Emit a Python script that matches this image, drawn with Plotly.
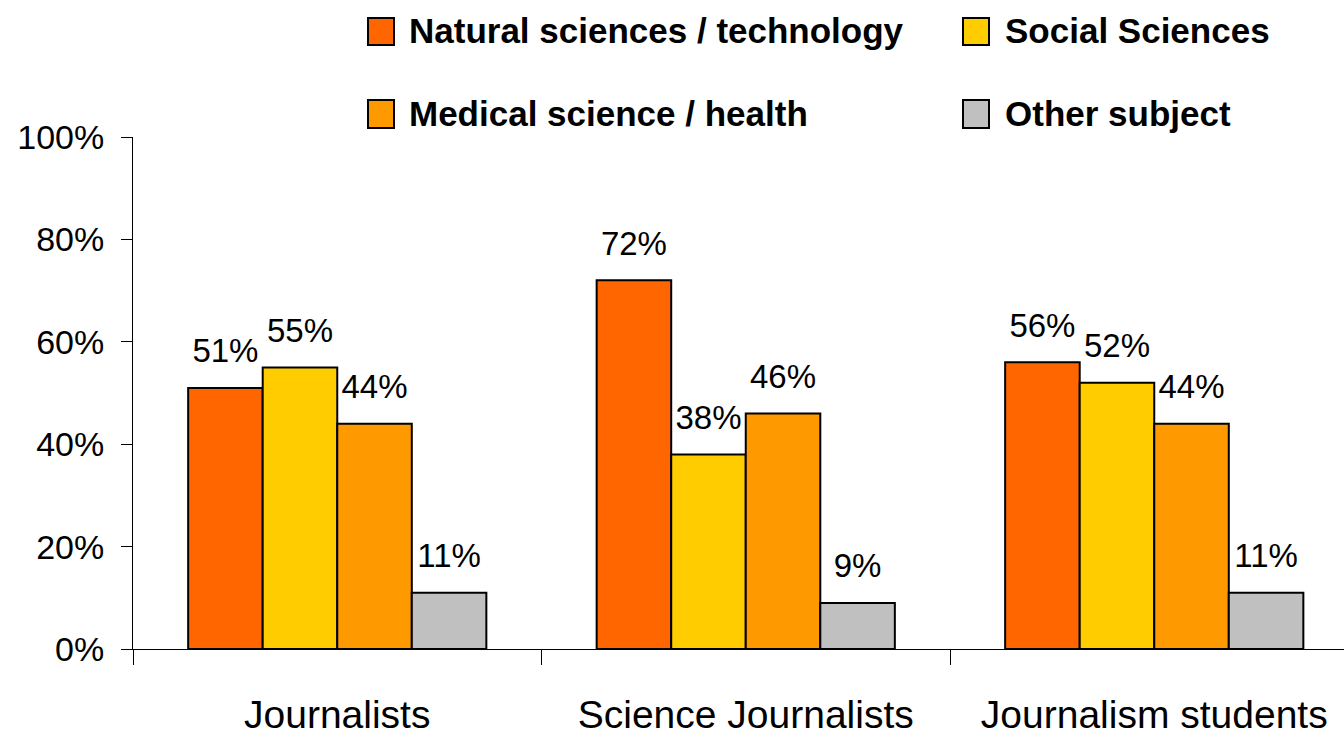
import plotly.graph_objects as go

# ---- data ----
categories = ["Journalists", "Science Journalists", "Journalism students"]
series_names = ["Natural sciences / technology", "Social Sciences",
                "Medical science / health", "Other subject"]
natural = [51, 72, 56]
social = [55, 38, 52]
medical = [44, 46, 44]
other = [11, 9, 11]
series_values = [natural, social, medical, other]
colors = ["#FF6600", "#FFCC00", "#FF9900", "#C0C0C0"]
y_tick_vals = [0, 20, 40, 60, 80, 100]
y_tick_text = ["0%", "20%", "40%", "60%", "80%", "100%"]

# ---- layout constants (pixels) ----
W, H = 1344, 735
ML, MR, MT, MB = 133, 0, 137, 86
PW, PH = W - ML - MR, H - MT - MB
CAT_PX = 408.5
BARGAP = 0.27

def px_x(p):
    return (p - ML) / PW

def px_y(p):
    return (H - MB - p) / PH

fig = go.Figure()
for name, vals, col in zip(series_names, series_values, colors):
    fig.add_trace(go.Bar(
        x=categories, y=vals, name=name,
        marker=dict(color=col, line=dict(color="#000000", width=2)),
        showlegend=False, hoverinfo="x+y+name",
    ))
for name, vals in zip(series_names, series_values):
    fig.add_trace(go.Scatter(
        x=categories, y=vals, name=name + " labels",
        mode="markers+text", orientation="v",
        marker=dict(size=26, opacity=0),
        text=[f"{v}%" for v in vals], textposition="top center",
        textfont=dict(family="Liberation Sans, Arial, sans-serif", size=33, color="#000000"),
        showlegend=False, hoverinfo="skip", cliponaxis=False,
    ))

# manual legend (large square swatches, two rows x two columns)
leg_cols_sq = [368, 963]
leg_cols_tx = [407, 1003]
leg_rows_sq = [(18, 45), (100, 128)]
leg_rows_tx = [30, 113]
shapes = []
annotations = []
for i, (name, col) in enumerate(zip(series_names, colors)):
    r, c = divmod(i, 2)
    x0 = leg_cols_sq[c]
    y0, y1 = leg_rows_sq[r]
    shapes.append(dict(type="rect", xref="paper", yref="paper",
                       x0=px_x(x0), x1=px_x(x0 + 26), y0=px_y(y1), y1=px_y(y0),
                       fillcolor=col, line=dict(color="#000000", width=2)))
    annotations.append(dict(xref="paper", yref="paper", x=px_x(leg_cols_tx[c]),
                            y=px_y(leg_rows_tx[r]), xanchor="left", yanchor="middle",
                            text=f"<b>{name}</b>", showarrow=False,
                            font=dict(family="Liberation Sans, Arial, sans-serif",
                                      size=35, color="#000000")))

fig.update_layout(
    width=W, height=H, autosize=False,
    margin=dict(l=ML, r=MR, t=MT, b=MB, pad=0),
    paper_bgcolor="#FFFFFF", plot_bgcolor="#FFFFFF",
    barmode="group", bargap=BARGAP, bargroupgap=0,
    scattermode="group", scattergap=BARGAP,
    showlegend=False,
    shapes=shapes, annotations=annotations,
    font=dict(family="Liberation Sans, Arial, sans-serif", color="#000000"),
)
fig.update_xaxes(
    type="category", range=[-0.5, -0.5 + PW / CAT_PX],
    showline=True, linecolor="#000000", linewidth=1,
    ticks="outside", tickson="boundaries", ticklen=15, tickwidth=1, tickcolor="#000000",
    showgrid=False, zeroline=False,
    tickfont=dict(family="Liberation Sans, Arial, sans-serif", size=39, color="#000000"),
    ticklabelstandoff=31,
)
fig.update_yaxes(
    range=[0, 100], tickvals=y_tick_vals, ticktext=y_tick_text,
    showline=True, linecolor="#000000", linewidth=1,
    ticks="outside", ticklen=11, tickwidth=1, tickcolor="#000000",
    showgrid=False, zeroline=False,
    tickfont=dict(family="Liberation Sans, Arial, sans-serif", size=34, color="#000000"),
    ticklabelstandoff=10,
)

fig.write_html(
    "out.html",
    config={"displayModeBar": False},
    post_script="document.body.style.margin='0';document.body.style.overflow='hidden';",
)
